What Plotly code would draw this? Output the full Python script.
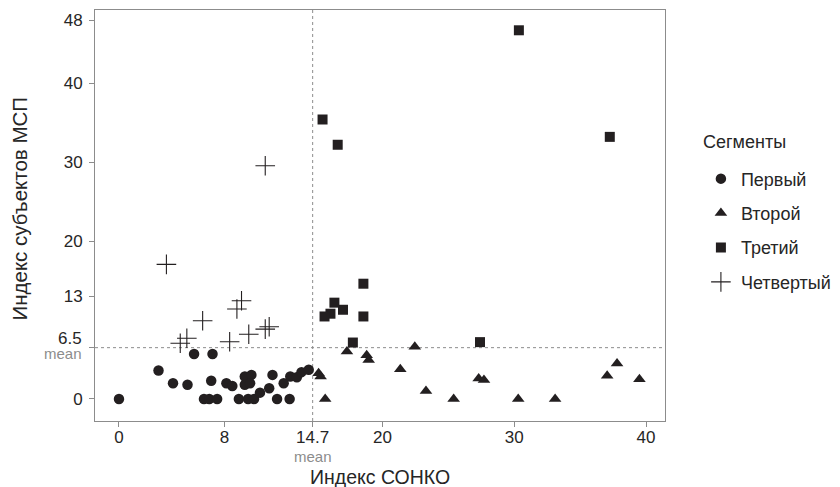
import plotly.graph_objects as go

# ---- data ----
first_x = [0, 3.0, 4.1, 5.2, 5.7, 7.1, 7.0, 6.45, 6.85, 7.45, 8.15, 8.6, 9.1, 9.55, 10.05,
           9.55, 9.95, 9.8, 10.25, 10.7, 11.4, 11.65, 12.0, 12.5, 12.95, 13.0, 13.5, 13.85, 14.4]
first_y = [0, 3.6, 2.0, 1.8, 5.7, 5.7, 2.3, 0, 0, 0, 2.0, 1.65, 0, 2.85, 3.05,
           1.8, 2.0, 0, 0, 0.8, 1.35, 3.05, 0, 2.0, 0, 2.85, 2.75, 3.4, 3.7]

second_x = [15.15, 15.3, 15.65, 17.3, 18.8, 18.95, 21.35, 22.45, 23.3, 25.4, 27.3, 27.7,
            30.3, 33.1, 37.05, 37.8, 39.5]
second_y = [3.25, 2.85, 0, 6.0, 5.55, 4.95, 3.75, 6.6, 1.0, 0, 2.6, 2.4,
            0, 0, 2.95, 4.5, 2.5]

third_x = [30.35, 15.45, 16.6, 37.25, 18.55, 16.35, 17.0, 16.05, 15.6, 18.55, 17.75, 27.4]
third_y = [46.7, 35.4, 32.2, 33.2, 14.6, 12.2, 11.3, 10.8, 10.45, 10.45, 7.15, 7.2]

fourth_x = [11.1, 3.6, 9.3, 8.95, 6.35, 5.15, 4.65, 8.4, 9.85, 11.1, 11.4]
fourth_y = [29.55, 17.05, 12.45, 11.4, 9.9, 7.7, 7.05, 7.25, 8.2, 8.85, 9.15]

mean_x = 14.7
mean_y = 6.5

x_ticks = [0, 8, 14.7, 20, 30, 40]
x_ticktext = ["0", "8", "14.7", "20", "30", "40"]
y_ticks = [0, 6.5, 13, 20, 30, 40, 48]
y_ticktext = ["0", "", "13", "20", "30", "40", "48"]

segment_names = ["Первый", "Второй", "Третий", "Четвертый"]
legend_title = "Сегменты"
x_title = "Индекс СОНКО"
y_title = "Индекс субъектов МСП"
mean_label = "mean"

ink = "#231f20"
text_col = "#262626"
grey = "#8c8c8c"
font_family = "Liberation Sans, Arial, sans-serif"

fig = go.Figure()
fig.add_trace(go.Scatter(x=first_x, y=first_y, mode="markers", name=segment_names[0],
                         legendgroup="a",
                         marker=dict(symbol="circle", size=10.5, color=ink)))
fig.add_trace(go.Scatter(x=second_x, y=second_y, mode="markers", name=segment_names[1],
                         legendgroup="b",
                         marker=dict(symbol="triangle-up", size=11, color=ink)))
fig.add_trace(go.Scatter(x=third_x, y=third_y, mode="markers", name=segment_names[2],
                         legendgroup="c",
                         marker=dict(symbol="square", size=10, color=ink)))
fig.add_trace(go.Scatter(x=fourth_x, y=fourth_y, mode="markers", name=segment_names[3],
                         legendgroup="d",
                         marker=dict(symbol="cross-thin-open", size=14,
                                     line=dict(color=ink, width=1.1), color=ink)))

# mean lines
fig.add_shape(type="line", xref="x", yref="paper", x0=mean_x, x1=mean_x, y0=0, y1=1,
              line=dict(color=grey, width=1, dash="3px,3px"), layer="below")
fig.add_shape(type="line", xref="paper", yref="y", x0=0, x1=1, y0=mean_y, y1=mean_y,
              line=dict(color=grey, width=1, dash="3px,3px"), layer="below")

axis_common = dict(showgrid=False, zeroline=False, showline=True, mirror=True,
                   linecolor=grey, linewidth=1, ticks="outside", ticklen=5,
                   tickcolor=grey, tickwidth=1,
                   tickfont=dict(size=17, color=text_col, family=font_family))

fig.update_xaxes(range=[-1.82, 41.44], tickvals=x_ticks, ticktext=x_ticktext,
                 ticklabelstandoff=-4, **axis_common)
fig.update_yaxes(range=[-2.79, 49.27], tickvals=y_ticks, ticktext=y_ticktext,
                 ticklabelstandoff=3, **axis_common)

# texts (tick "6.5" + "mean" labels, axis titles, legend title)
fig.add_annotation(x=0, xref="paper", xanchor="right", xshift=-11,
                   y=mean_y, yref="y", yanchor="middle", yshift=9,
                   text="6.5", showarrow=False,
                   font=dict(size=17, color=text_col, family=font_family))
fig.add_annotation(x=0, xref="paper", xanchor="right", xshift=-11,
                   y=mean_y, yref="y", yanchor="middle", yshift=-6,
                   text=mean_label, showarrow=False,
                   font=dict(size=15, color=grey, family=font_family))
fig.add_annotation(x=mean_x, xref="x", xanchor="center",
                   y=0, yref="paper", yanchor="middle", yshift=-35,
                   text=mean_label, showarrow=False,
                   font=dict(size=15, color=grey, family=font_family))
fig.add_annotation(x=0.5, xref="paper", xanchor="center",
                   y=0, yref="paper", yanchor="middle", yshift=-56,
                   text=x_title, showarrow=False,
                   font=dict(size=19.5, color=text_col, family=font_family))
fig.add_annotation(x=0, xref="paper", xanchor="center", xshift=-76,
                   y=0.5, yref="paper", yanchor="middle", yshift=7,
                   text=y_title, textangle=-90, showarrow=False,
                   font=dict(size=20.5, color=text_col, family=font_family))
fig.add_annotation(x=1, xref="paper", xanchor="left", xshift=36,
                   y=1, yref="paper", yanchor="middle", yshift=-132,
                   text=legend_title, showarrow=False,
                   font=dict(size=18, color=text_col, family=font_family))

fig.update_layout(
    width=840, height=487,
    margin=dict(l=87, r=183, t=2, b=74),
    plot_bgcolor="white", paper_bgcolor="white",
    font=dict(family=font_family, color=text_col),
    legend=dict(font=dict(size=18, color=text_col), x=1.063, xanchor="left",
                y=0.634, yanchor="top", tracegroupgap=8, bgcolor="rgba(0,0,0,0)"),
)

fig.write_html("out.html")
